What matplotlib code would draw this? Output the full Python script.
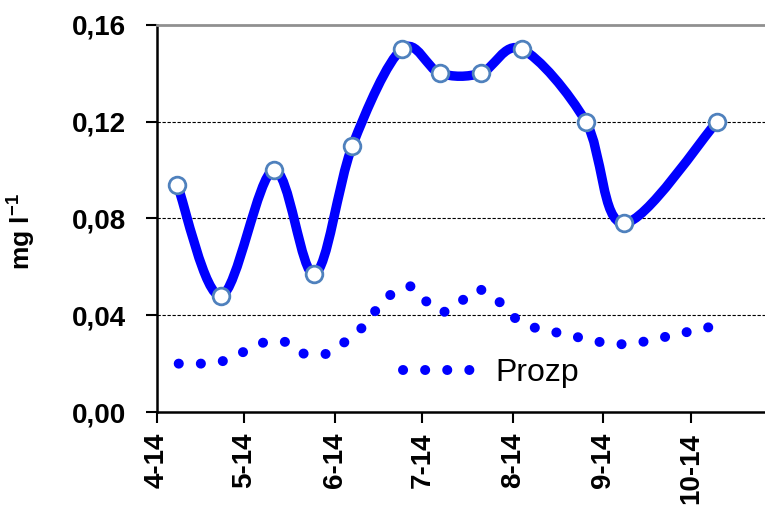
import numpy as np
import matplotlib
matplotlib.use("Agg")
import matplotlib.pyplot as plt
from matplotlib.path import Path
from matplotlib.patches import PathPatch
from matplotlib.lines import Line2D

plt.rcParams['font.family'] = ['Liberation Sans', 'DejaVu Sans']
plt.rcParams['mathtext.fontset'] = 'custom'
plt.rcParams['mathtext.rm'] = 'Liberation Sans'
plt.rcParams['mathtext.bf'] = 'Liberation Sans:bold'

# days counted from 1 April 2014
main_days = np.array([7, 22, 40, 54, 67, 84, 97, 111, 125, 147, 160, 192])
main_vals = np.array([0.094, 0.048, 0.100, 0.057, 0.110, 0.150, 0.140, 0.140,
                      0.150, 0.120, 0.078, 0.120])

prozp_days = np.array([7.5, 15, 22.5, 30, 37, 44, 50.5, 58, 64.5, 70.5, 75, 80.5,
                       87, 92, 98, 104.5, 110.5, 117, 122.5, 129, 136.5, 144,
                       151.5, 159, 166.5, 174, 181.5, 189])
prozp_vals = np.array([0.020, 0.020, 0.021, 0.025, 0.029, 0.029, 0.024, 0.024,
                       0.029, 0.035, 0.042, 0.049, 0.052, 0.046, 0.041, 0.046,
                       0.051, 0.046, 0.039, 0.035, 0.033, 0.031, 0.029, 0.028,
                       0.029, 0.031, 0.033, 0.035])

tick_days = [0, 30, 61, 91, 122, 153, 183]
tick_labels = ['4-14', '5-14', '6-14', '7-14', '8-14', '9-14', '10-14']
y_ticks = [0.0, 0.04, 0.08, 0.12, 0.16]


def smooth_path(x, y):
    # excel-like smoothed line: catmull-rom turned into bezier segments
    pts = np.column_stack([x, y]).astype(float)
    p = np.vstack([pts[0], pts, pts[-1]])
    verts = [pts[0]]
    codes = [Path.MOVETO]
    for i in range(1, len(p) - 2):
        c1 = p[i] + (p[i + 1] - p[i - 1]) / 6.0
        c2 = p[i + 1] - (p[i + 2] - p[i]) / 6.0
        verts += [c1, c2, p[i + 1]]
        codes += [Path.CURVE4] * 3
    return Path(verts, codes)


fig = plt.figure(figsize=(7.65, 5.17), dpi=100)
ax = fig.add_axes([0.205, 0.203, 0.795, 0.749])

ax.set_xlim(0, 208.4)
ax.set_ylim(0, 0.16)

for yv in y_ticks[1:-1]:
    ax.axhline(yv, color='black', lw=0.8, ls=(0, (3, 1.5)), zorder=1)

# Prozp series as round dotted line
ax.plot(prozp_days, prozp_vals, color='#0000ff', lw=7.2,
        ls=(0, (0.01, 2.2)), dash_capstyle='round', zorder=2)

patch = PathPatch(smooth_path(main_days, main_vals), facecolor='none',
                  edgecolor='#0000ff', lw=6.8, capstyle='round', zorder=3)
ax.add_patch(patch)
ax.plot(main_days, main_vals, ls='none', marker='o', ms=12, mfc='white',
        mec='#4f81bd', mew=2, zorder=4)

ax.spines['right'].set_visible(False)
ax.spines['top'].set_color('#909090')
ax.spines['top'].set_linewidth(2)
ax.spines['left'].set_linewidth(1.8)
ax.spines['bottom'].set_linewidth(1.8)

ax.set_yticks(y_ticks)
ax.set_yticklabels([('%.2f' % v).replace('.', ',') for v in y_ticks],
                   fontsize=20, fontweight='bold')
ax.set_xticks(tick_days)
ax.set_xticklabels(tick_labels, rotation=90, fontsize=20, fontweight='bold')
ax.tick_params(axis='both', direction='out', length=8, width=1.5)
ax.tick_params(axis='y', pad=14)
ax.tick_params(axis='x', pad=7)

ax.set_ylabel(r'mg l$^{\mathbf{-1}}$', fontsize=19, fontweight='bold')
ax.yaxis.set_label_coords(-0.197, 0.465)

handle = Line2D([], [], color='#0000ff', lw=7.2, ls=(0, (0.01, 2.2)),
                dash_capstyle='round')
ax.legend([handle], ['Prozp'], loc='center left', bbox_to_anchor=(0.357, 0.10),
          frameon=False, fontsize=23, handlelength=2.3, handletextpad=0.6)

fig.savefig('out.png', dpi=100)
